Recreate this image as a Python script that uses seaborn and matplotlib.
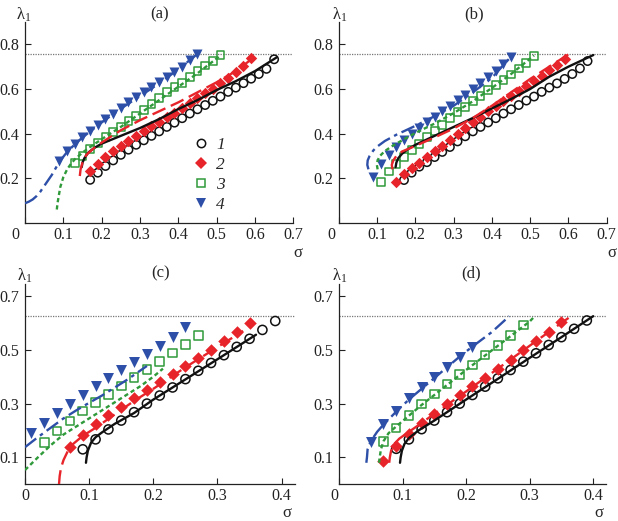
import matplotlib
matplotlib.use("Agg")
import matplotlib.pyplot as plt
import seaborn as sns
from matplotlib.lines import Line2D
from matplotlib.transforms import ScaledTranslation

# ---------------- data ----------------
# panel (a)
a1_sx = [0.17,0.19,0.21,0.23,0.25,0.27,0.29,0.31,0.33,0.35,0.37,0.39,0.41,0.43,0.45,0.47,0.49,0.51,0.53,0.55,0.57,0.59,0.61,0.63,0.65]
a1_sy = [0.193,0.225,0.255,0.28,0.305,0.328,0.35,0.37,0.39,0.41,0.43,0.449,0.469,0.49,0.509,0.528,0.547,0.566,0.587,0.606,0.626,0.646,0.667,0.69,0.733]
a1_lx = [0.148,0.150,0.155,0.165,0.18,0.20,0.25,0.30,0.35,0.40,0.45,0.50,0.55,0.60,0.657]
a1_ly = [0.25,0.27,0.29,0.315,0.335,0.355,0.39,0.425,0.465,0.51,0.55,0.595,0.635,0.68,0.742]
a2_sx = [0.17,0.19,0.21,0.23,0.25,0.27,0.29,0.31,0.33,0.35,0.37,0.39,0.41,0.43,0.45,0.47,0.49,0.51,0.53,0.55,0.57,0.59]
a2_sy = [0.233,0.265,0.295,0.32,0.343,0.368,0.39,0.412,0.433,0.453,0.473,0.494,0.515,0.536,0.558,0.58,0.602,0.625,0.65,0.675,0.705,0.737]
a2_lx = [0.143,0.145,0.150,0.160,0.18,0.20,0.25,0.30,0.35,0.40,0.45,0.50,0.55,0.60]
a2_ly = [0.21,0.24,0.27,0.305,0.335,0.36,0.415,0.46,0.50,0.54,0.585,0.63,0.68,0.745]
a3_sx = [0.13,0.15,0.17,0.19,0.21,0.23,0.25,0.27,0.29,0.31,0.33,0.35,0.37,0.39,0.41,0.43,0.45,0.47,0.49,0.51]
a3_sy = [0.267,0.30,0.33,0.357,0.385,0.408,0.43,0.455,0.478,0.505,0.532,0.558,0.585,0.607,0.628,0.652,0.68,0.705,0.727,0.752]
a3_lx = [0.083,0.085,0.088,0.092,0.10,0.11,0.12,0.13,0.15,0.17,0.20,0.25,0.30,0.35,0.40,0.45,0.51]
a3_ly = [0.06,0.09,0.12,0.16,0.205,0.24,0.265,0.285,0.315,0.34,0.375,0.43,0.49,0.55,0.61,0.67,0.75]
a4_sx = [0.09,0.11,0.13,0.15,0.17,0.19,0.21,0.23,0.25,0.27,0.29,0.31,0.33,0.35,0.37,0.39,0.41,0.43,0.45]
a4_sy = [0.278,0.32,0.355,0.385,0.413,0.44,0.467,0.49,0.515,0.54,0.563,0.585,0.607,0.63,0.652,0.678,0.70,0.728,0.757]
a4_lx = [0.0,0.01,0.02,0.03,0.04,0.05,0.06,0.07,0.08,0.09,0.11,0.13,0.15,0.20,0.25,0.30,0.35,0.40,0.45]
a4_ly = [0.088,0.095,0.105,0.12,0.14,0.165,0.19,0.215,0.245,0.275,0.318,0.352,0.383,0.45,0.512,0.568,0.625,0.688,0.757]

# panel (b)
b1_sx = [0.17,0.19,0.21,0.23,0.25,0.27,0.29,0.31,0.33,0.35,0.37,0.39,0.41,0.43,0.45,0.47,0.49,0.51,0.53,0.55,0.57,0.59,0.61,0.63,0.65]
b1_sy = [0.192,0.225,0.252,0.272,0.295,0.318,0.34,0.365,0.388,0.41,0.43,0.45,0.469,0.49,0.509,0.528,0.548,0.566,0.587,0.606,0.625,0.645,0.667,0.692,0.725]
b1_lx = [0.148,0.150,0.155,0.165,0.18,0.20,0.25,0.30,0.35,0.40,0.45,0.50,0.55,0.60,0.665]
b1_ly = [0.25,0.27,0.29,0.31,0.33,0.35,0.39,0.43,0.47,0.513,0.555,0.60,0.655,0.70,0.752]
b2_sx = [0.15,0.17,0.19,0.21,0.23,0.25,0.27,0.29,0.31,0.33,0.35,0.37,0.39,0.41,0.43,0.45,0.47,0.49,0.51,0.53,0.55,0.57,0.59]
b2_sy = [0.181,0.218,0.245,0.27,0.295,0.32,0.345,0.37,0.398,0.425,0.45,0.475,0.50,0.523,0.546,0.568,0.59,0.614,0.637,0.66,0.684,0.708,0.735]
b2_lx = [0.140,0.138,0.142,0.150,0.165,0.20,0.25,0.30,0.35,0.40,0.45,0.50,0.55,0.60]
b2_ly = [0.24,0.26,0.28,0.30,0.32,0.345,0.383,0.423,0.47,0.525,0.585,0.645,0.70,0.755]
b3_sx = [0.11,0.13,0.15,0.17,0.19,0.21,0.23,0.25,0.27,0.29,0.31,0.33,0.35,0.37,0.39,0.41,0.43,0.45,0.47,0.49,0.51]
b3_sy = [0.185,0.23,0.265,0.295,0.325,0.355,0.385,0.41,0.44,0.47,0.495,0.52,0.545,0.57,0.595,0.618,0.64,0.665,0.692,0.718,0.748]
b3_lx = [0.101,0.099,0.101,0.107,0.12,0.14,0.17,0.20,0.25,0.30,0.35,0.40,0.45,0.51]
b3_ly = [0.24,0.26,0.28,0.30,0.322,0.345,0.375,0.403,0.445,0.492,0.545,0.605,0.667,0.75]
b4_sx = [0.09,0.11,0.13,0.15,0.17,0.19,0.21,0.23,0.25,0.27,0.29,0.31,0.33,0.35,0.37,0.39,0.41,0.43,0.45]
b4_sy = [0.207,0.262,0.305,0.34,0.37,0.397,0.425,0.45,0.475,0.50,0.525,0.55,0.575,0.60,0.627,0.655,0.68,0.71,0.742]
b4_lx = [0.077,0.074,0.075,0.08,0.09,0.10,0.12,0.15,0.20,0.25,0.30,0.35,0.40,0.45]
b4_ly = [0.24,0.26,0.28,0.30,0.325,0.342,0.367,0.395,0.435,0.478,0.525,0.585,0.65,0.745]

# panel (c)
c1_sx = [0.09,0.11,0.13,0.15,0.17,0.19,0.21,0.23,0.25,0.27,0.29,0.31,0.33,0.35,0.37,0.39]
c1_sy = [0.13,0.167,0.204,0.237,0.268,0.30,0.33,0.36,0.391,0.422,0.451,0.48,0.511,0.541,0.574,0.607]
c1_lx = [0.095,0.096,0.098,0.103,0.11,0.12,0.14,0.17,0.20,0.25,0.30,0.36]
c1_ly = [0.08,0.10,0.125,0.155,0.175,0.193,0.225,0.265,0.315,0.39,0.465,0.556]
c2_sx = [0.07,0.09,0.11,0.13,0.15,0.17,0.19,0.21,0.23,0.25,0.27,0.29,0.31,0.33,0.35]
c2_sy = [0.14,0.185,0.224,0.257,0.288,0.32,0.352,0.38,0.41,0.438,0.47,0.50,0.534,0.567,0.601]
c2_lx = [0.053,0.054,0.056,0.060,0.066,0.075,0.09,0.11,0.14,0.17,0.20,0.25,0.30,0.34]
c2_ly = [0.0,0.03,0.06,0.09,0.12,0.15,0.18,0.21,0.26,0.31,0.355,0.435,0.51,0.57]
c3_sx = [0.03,0.05,0.07,0.09,0.11,0.13,0.15,0.17,0.19,0.21,0.23,0.25,0.27]
c3_sy = [0.155,0.198,0.235,0.272,0.305,0.333,0.366,0.396,0.426,0.457,0.488,0.52,0.553]
c3_lx = [0.0,0.02,0.04,0.06,0.08,0.10,0.12,0.14,0.16,0.18,0.20,0.215]
c3_ly = [0.053,0.10,0.145,0.185,0.215,0.245,0.275,0.305,0.335,0.365,0.40,0.43]
c4_sx = [0.01,0.03,0.05,0.07,0.09,0.11,0.13,0.15,0.17,0.19,0.21,0.23,0.25]
c4_sy = [0.19,0.228,0.265,0.30,0.333,0.364,0.395,0.425,0.453,0.483,0.515,0.549,0.586]
c4_lx = [0.0,0.02,0.04,0.06,0.08,0.10,0.12,0.14,0.16,0.19]
c4_ly = [0.138,0.175,0.21,0.245,0.275,0.303,0.33,0.36,0.39,0.44]

# panel (d)
d1_sx = [0.09,0.11,0.13,0.15,0.17,0.19,0.21,0.23,0.25,0.27,0.29,0.31,0.33,0.35,0.37,0.39]
d1_sy = [0.132,0.167,0.205,0.237,0.268,0.30,0.332,0.363,0.394,0.425,0.456,0.487,0.518,0.547,0.578,0.609]
d1_lx = [0.096,0.097,0.099,0.103,0.11,0.125,0.15,0.20,0.25,0.30,0.35,0.40]
d1_ly = [0.08,0.10,0.125,0.15,0.172,0.20,0.237,0.315,0.392,0.47,0.547,0.625]
d2_sx = [0.07,0.09,0.11,0.13,0.15,0.17,0.19,0.21,0.23,0.25,0.27,0.29,0.31,0.33,0.35]
d2_sy = [0.087,0.142,0.187,0.227,0.263,0.298,0.332,0.364,0.396,0.429,0.463,0.499,0.534,0.568,0.604]
d2_lx = [0.079,0.080,0.082,0.087,0.095,0.11,0.13,0.15,0.20,0.25,0.30,0.35,0.367]
d2_ly = [0.08,0.10,0.125,0.15,0.17,0.195,0.228,0.262,0.345,0.43,0.515,0.60,0.628]
d3_sx = [0.07,0.09,0.11,0.13,0.15,0.17,0.19,0.21,0.23,0.25,0.27,0.29]
d3_sy = [0.16,0.21,0.256,0.298,0.336,0.373,0.408,0.443,0.48,0.515,0.553,0.592]
d3_lx = [0.063,0.064,0.066,0.07,0.078,0.09,0.11,0.13,0.15,0.20,0.25,0.30,0.308]
d3_ly = [0.08,0.10,0.13,0.16,0.19,0.215,0.255,0.295,0.332,0.425,0.515,0.605,0.625]
d4_sx = [0.05,0.07,0.09,0.11,0.13,0.15,0.17,0.19,0.21]
d4_sy = [0.157,0.225,0.272,0.32,0.36,0.398,0.437,0.475,0.51]
d4_lx = [0.043,0.044,0.045,0.05,0.06,0.07,0.09,0.11,0.13,0.15,0.17,0.19,0.21,0.24,0.268]
d4_ly = [0.08,0.10,0.13,0.16,0.195,0.222,0.27,0.315,0.355,0.395,0.435,0.475,0.512,0.565,0.625]

limit_ab = 0.755
limit_cd = 0.625

ab_xticks = [0, 0.1, 0.2, 0.3, 0.4, 0.5, 0.6, 0.7]
ab_xticklabels = ['0', '0.1', '0.2', '0.3', '0.4', '0.5', '0.6', '0.7']
ab_yticks = [0.2, 0.4, 0.6, 0.8]
ab_yticklabels = ['0.2', '0.4', '0.6', '0.8']
cd_xticks = [0, 0.1, 0.2, 0.3, 0.4]
cd_xticklabels = ['0', '0.1', '0.2', '0.3', '0.4']
cd_yticks = [0.1, 0.3, 0.5, 0.7]
cd_yticklabels = ['0.1', '0.3', '0.5', '0.7']
legend_labels = ['1', '2', '3', '4']
panel_labels = ['(a)', '(b)', '(c)', '(d)']

# ---------------- style ----------------
sns.set_theme(style="ticks")
plt.rcParams['font.family'] = ['Liberation Serif', 'DejaVu Serif']
plt.rcParams['mathtext.fontset'] = 'custom'
plt.rcParams['mathtext.rm'] = 'Liberation Serif'
plt.rcParams['mathtext.it'] = 'Liberation Serif:italic'

BLACK = '#111111'
RED = '#e8242b'
GREEN = '#2f9a3a'
BLUE = '#2d4fa8'
FS = 11.5

W, H = 618, 521
fig = plt.figure(figsize=(W / 100, H / 100), dpi=100)

def frac(l, r, t, b):
    return [l / W, 1 - b / H, (r - l) / W, (b - t) / H]

axA = fig.add_axes(frac(25, 293.3, 22.0, 222.9))
axB = fig.add_axes(frac(339, 606.7, 22.0, 222.9))
axC = fig.add_axes(frac(25, 294.5, 283.9, 484.3))
axD = fig.add_axes(frac(339, 605.9, 283.9, 484.3))

styles = [
    dict(color=BLACK, ls='-', marker='o', face='none', s=36, lw_m=1.1),
    dict(color=RED, ls=(0, (6, 2.5)), marker='D', face=RED, s=34, lw_m=0.0),
    dict(color=GREEN, ls=(0, (1.8, 1.3)), marker='s', face='none', s=32, lw_m=1.1),
    dict(color=BLUE, ls=(0, (6, 2, 1.5, 2)), marker='v', face=BLUE, s=52, lw_m=0.0),
]

def draw(ax, series, scale=1.0):
    for st, (sx, sy, lx, ly) in zip(styles, series):
        sns.scatterplot(x=sx, y=sy, ax=ax, marker=st['marker'], s=st['s'] * scale,
                        color=st['color'], facecolor=st['face'], edgecolor=st['color'],
                        linewidth=st['lw_m'], zorder=3, legend=False)
    for st, (sx, sy, lx, ly) in zip(styles, series):
        sns.lineplot(x=lx, y=ly, ax=ax, sort=False, estimator=None, color=st['color'],
                     linestyle=st['ls'], linewidth=1.7, zorder=4, legend=False)

draw(axA, [(a1_sx, a1_sy, a1_lx, a1_ly), (a2_sx, a2_sy, a2_lx, a2_ly),
           (a3_sx, a3_sy, a3_lx, a3_ly), (a4_sx, a4_sy, a4_lx, a4_ly)])
draw(axB, [(b1_sx, b1_sy, b1_lx, b1_ly), (b2_sx, b2_sy, b2_lx, b2_ly),
           (b3_sx, b3_sy, b3_lx, b3_ly), (b4_sx, b4_sy, b4_lx, b4_ly)])
draw(axC, [(c1_sx, c1_sy, c1_lx, c1_ly), (c2_sx, c2_sy, c2_lx, c2_ly),
           (c3_sx, c3_sy, c3_lx, c3_ly), (c4_sx, c4_sy, c4_lx, c4_ly)], scale=1.2)
draw(axD, [(d1_sx, d1_sy, d1_lx, d1_ly), (d2_sx, d2_sy, d2_lx, d2_ly),
           (d3_sx, d3_sy, d3_lx, d3_ly), (d4_sx, d4_sy, d4_lx, d4_ly)], scale=1.2)

zero_shift = {axA: -10, axB: -8, axC: 0, axD: -5}
for ax, lim, xt, xtl, yt, ytl, xmax, ymax in [
        (axA, limit_ab, ab_xticks, ab_xticklabels, ab_yticks, ab_yticklabels, 0.7, 0.9),
        (axB, limit_ab, ab_xticks, ab_xticklabels, ab_yticks, ab_yticklabels, 0.7, 0.9),
        (axC, limit_cd, cd_xticks, cd_xticklabels, cd_yticks, cd_yticklabels, 0.42, 0.745),
        (axD, limit_cd, cd_xticks, cd_xticklabels, cd_yticks, cd_yticklabels, 0.42, 0.745)]:
    ax.axhline(lim, color='#777777', lw=0.9, ls=(0, (1, 1)), zorder=2)
    ax.set_xlim(0, xmax)
    ax.set_ylim(0, ymax)
    ax.set_xticks(xt, xtl)
    ax.set_yticks(yt, ytl)
    ax.set_xlabel('')
    ax.set_ylabel('')
    sns.despine(ax=ax)
    for sp in ('left', 'bottom'):
        ax.spines[sp].set_color('#222222')
        ax.spines[sp].set_linewidth(0.9)
    ax.tick_params(axis='both', direction='in', length=4, width=0.8, colors='#222222',
                   labelsize=FS, labelcolor='#222222')
    ax.tick_params(axis='x', pad=3)
    ax.tick_params(axis='y', pad=4)
    ax.grid(False)
    lab0 = ax.get_xticklabels()[0]
    lab0.set_transform(lab0.get_transform() +
                       ScaledTranslation(zero_shift[ax] / 100, 0, fig.dpi_scale_trans))

# legend in panel (a)
handles = [Line2D([], [], ls='none', marker=st['marker'], color=st['color'],
                  markerfacecolor=st['face'], markeredgecolor=st['color'],
                  markeredgewidth=st['lw_m'],
                  markersize=(st['s'] ** 0.5)) for st in styles]
leg = axA.legend(handles, legend_labels, loc='upper left', bbox_to_anchor=(0.625, 0.43),
                 frameon=False, borderaxespad=0, borderpad=0, handlelength=0.9,
                 handletextpad=0.45, labelspacing=0.22, prop=dict(style='italic', size=FS + 1))

# texts
def ftext(px, py, s, **kw):
    fig.text(px / W, 1 - py / H, s, **kw)

ftext(160, 14, panel_labels[0], ha='center', va='center', fontsize=FS + 0.5)
ftext(474, 14, panel_labels[1], ha='center', va='center', fontsize=FS + 0.5)
ftext(161, 273, panel_labels[2], ha='center', va='center', fontsize=FS + 0.5)
ftext(471, 273, panel_labels[3], ha='center', va='center', fontsize=FS + 0.5)
lam = r'$\mathrm{λ}_{1}$'
ftext(16, 15, lam, ha='left', va='center', fontsize=FS + 0.5)
ftext(332, 15, lam, ha='left', va='center', fontsize=FS + 0.5)
ftext(17, 276, lam, ha='left', va='center', fontsize=FS + 0.5)
ftext(332, 276, lam, ha='left', va='center', fontsize=FS + 0.5)
ftext(298, 253, 'σ', ha='center', va='center', fontsize=FS + 0.5)
ftext(612, 253, 'σ', ha='center', va='center', fontsize=FS + 0.5)
ftext(287, 513, 'σ', ha='center', va='center', fontsize=FS + 0.5)
ftext(599, 513, 'σ', ha='center', va='center', fontsize=FS + 0.5)

fig.savefig('out.png', dpi=100, facecolor='white')
